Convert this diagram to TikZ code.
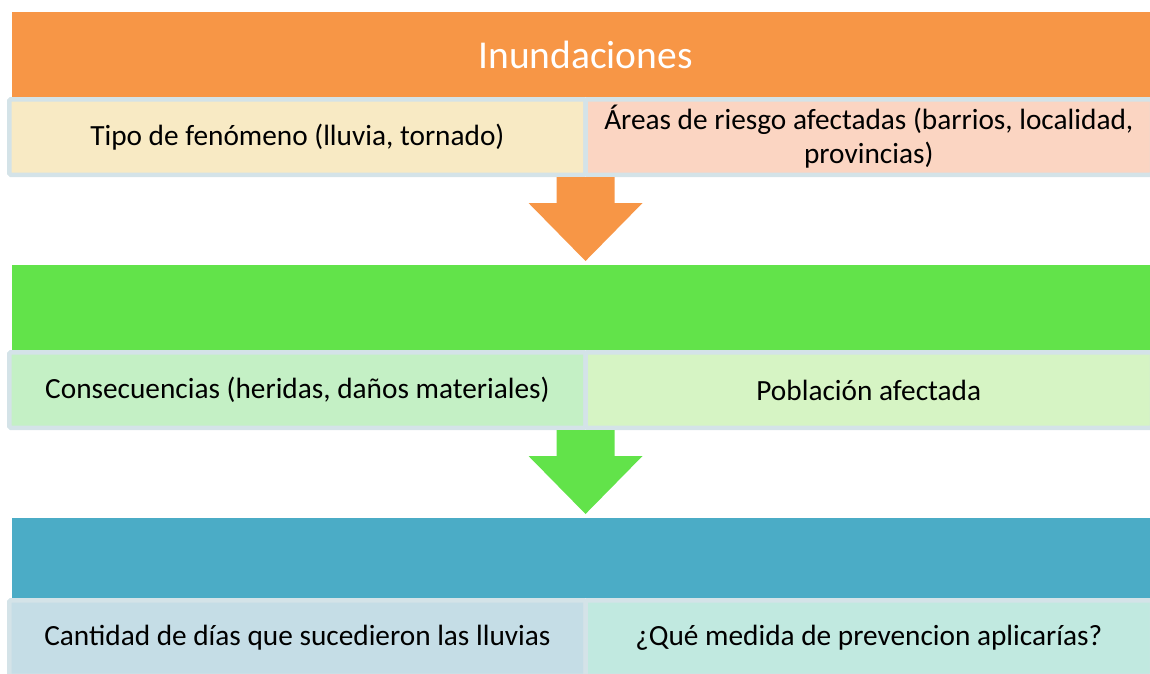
\documentclass[tikz,border=0pt]{standalone}
\usepackage{fontspec}
\setmainfont{Carlito}
\usetikzlibrary{calc}
\definecolor{naranja}{HTML}{F79646}
\definecolor{crema}{HTML}{F8EAC4}
\definecolor{salmon}{HTML}{FBD5C2}
\definecolor{verde}{HTML}{62E34A}
\definecolor{verdeA}{HTML}{C4F0C5}
\definecolor{verdeB}{HTML}{D6F4C4}
\definecolor{azul}{HTML}{4BACC6}
\definecolor{azulA}{HTML}{C5DDE6}
\definecolor{azulB}{HTML}{C1E9E0}
\definecolor{borde}{HTML}{D4E3E8}
\tikzset{
  cabecera/.style={fill=#1, minimum width=1147, inner sep=0, outer sep=0, text=white, font=\fontsize{39.5}{46}\selectfont},
  casilla/.style={fill=#1, draw=borde, line width=4.5, rounded corners=1.5, minimum height=75.5, inner sep=0, outer sep=0, align=center, font=\fontsize{29.3}{34}\selectfont}
}
\begin{document}
\begin{tikzpicture}[x=1pt,y=-1pt]
\useasboundingbox (0,0) rectangle (1150,673);
\foreach \i/\alto/\fondo/\izq/\der/\titulo/\tizq/\tder in {
	1/85/naranja/crema/salmon/Inundaciones/{Tipo de fenómeno (lluvia, tornado)}/{Áreas de riesgo afectadas (barrios, localidad,\\provincias)},
	2/85/verde/verdeA/verdeB/{}/{Consecuencias (heridas, daños materiales)}/{Población afectada},
	3/80/azul/azulA/azulB/{}/{Cantidad de días que sucedieron las lluvias}/{¿Qué medida de prevencion aplicarías?}} {
	\pgfmathsetmacro{\y}{12+253*(\i-1)}
	\node[cabecera=\fondo, minimum height=\alto] (h\i) at (585.5,\y+\alto/2) {\titulo};
	\node[casilla=\izq, minimum width=576.25] (l\i) at (297.4,\y+\alto+40) {\tizq};
	\node[casilla=\der, minimum width=566.5] (r\i) at (868.75,\y+\alto+40) {\tder};
}
\foreach \i/\j/\fondo in {1/2/naranja, 2/3/verde} {
	\coordinate (a\i) at ($(l\i.south east)+(0,2.25)$);
	\coordinate (b\i) at ($(h\j.north -| a\i)+(0,-4)$);
	\fill[\fondo] ($(a\i)+(-29,0)$) -- ($(a\i)+(29,0)$) -- ($(b\i)+(29,-58)$) -- ($(b\i)+(57,-58)$)
		-- (b\i) -- ($(b\i)+(-57,-58)$) -- ($(b\i)+(-29,-58)$) -- cycle;
}
\end{tikzpicture}
\end{document}
